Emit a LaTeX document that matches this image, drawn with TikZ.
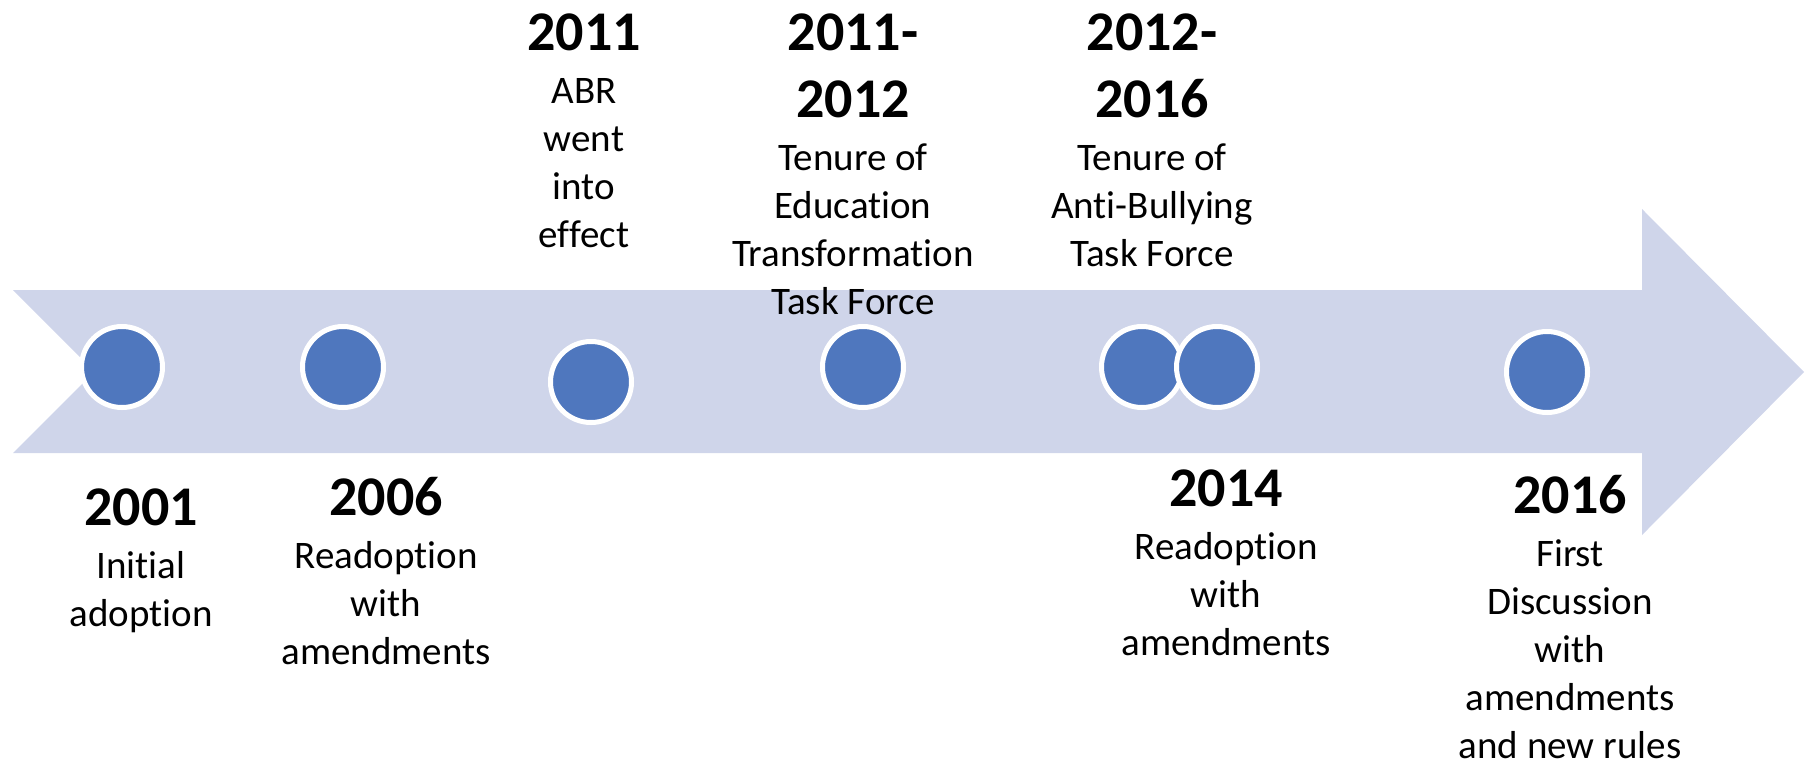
\documentclass[tikz,border=0pt]{standalone}
\usepackage{fontspec}
\setmainfont[Ligatures={NoCommon}]{Carlito}
\usepackage{xcolor}
\definecolor{bandcolor}{RGB}{207,213,234}
\definecolor{dotcolor}{RGB}{79,119,190}
\newcommand{\yearfont}{\fontsize{28}{33.5}\selectfont\bfseries}

\begin{document}
\begin{tikzpicture}[
    x=0.5pt, y=-0.5pt,
    dot/.style={circle, draw=white, line width=2.5pt, fill=dotcolor, minimum size=40.5pt, inner sep=0pt},
    event/.style={align=center, inner sep=0pt, anchor=north, font=\fontsize{19.5}{24}\selectfont}
]
\useasboundingbox (0,0) rectangle (1808,761);

% the time band
\fill[bandcolor] (13,290) -- (1642,290) -- (1642,209) -- (1804,372) -- (1642,535)
    -- (1642,453) -- (13,453) -- (94.5,371.5) -- cycle;

% milestones
\node[dot] (d2001) at (122,367) {};
\node[dot] (d2006) at (343,367) {};
\node[dot] (d2011) at (591,382) {};
\node[dot] (dedu) at (863,367) {};
\node[dot] (dabt) at (1142,367) {};
\node[dot] (d2014) at (1217,367) {};
\node[dot] (d2016) at (1547,372) {};

% labels above the band
\node[event] (t2011) at (584,13) {{\yearfont 2011}\\[2.5pt] ABR\\ went\\ into\\ effect};
\node[event] (tedu) at (853,13) {{\yearfont 2011-}\\[9.75pt] {\yearfont 2012}\\[2.5pt] Tenure of\\ Education\\ Transformation\\ Task Force};
\node[event] (tabt) at (1152,13) {{\yearfont 2012-}\\[9.75pt] {\yearfont 2016}\\[2.5pt] Tenure of\\ Anti-Bullying\\ Task Force};

% labels below the band
\node[event] (t2001) at (141,488) {{\yearfont 2001}\\[2.5pt] Initial\\ adoption};
\node[event] (t2006) at (386,477) {{\yearfont 2006}\\[2.5pt] Readoption\\ with\\ amendments};
\node[event] (t2014) at (1226,469) {{\yearfont 2014}\\[2.5pt] Readoption\\ with\\ amendments};
\node[event] (t2016) at (1570,475) {{\yearfont 2016}\\[2.5pt] First\\ Discussion\\ with\\ amendments\\ and new rules};
\end{tikzpicture}
\end{document}
